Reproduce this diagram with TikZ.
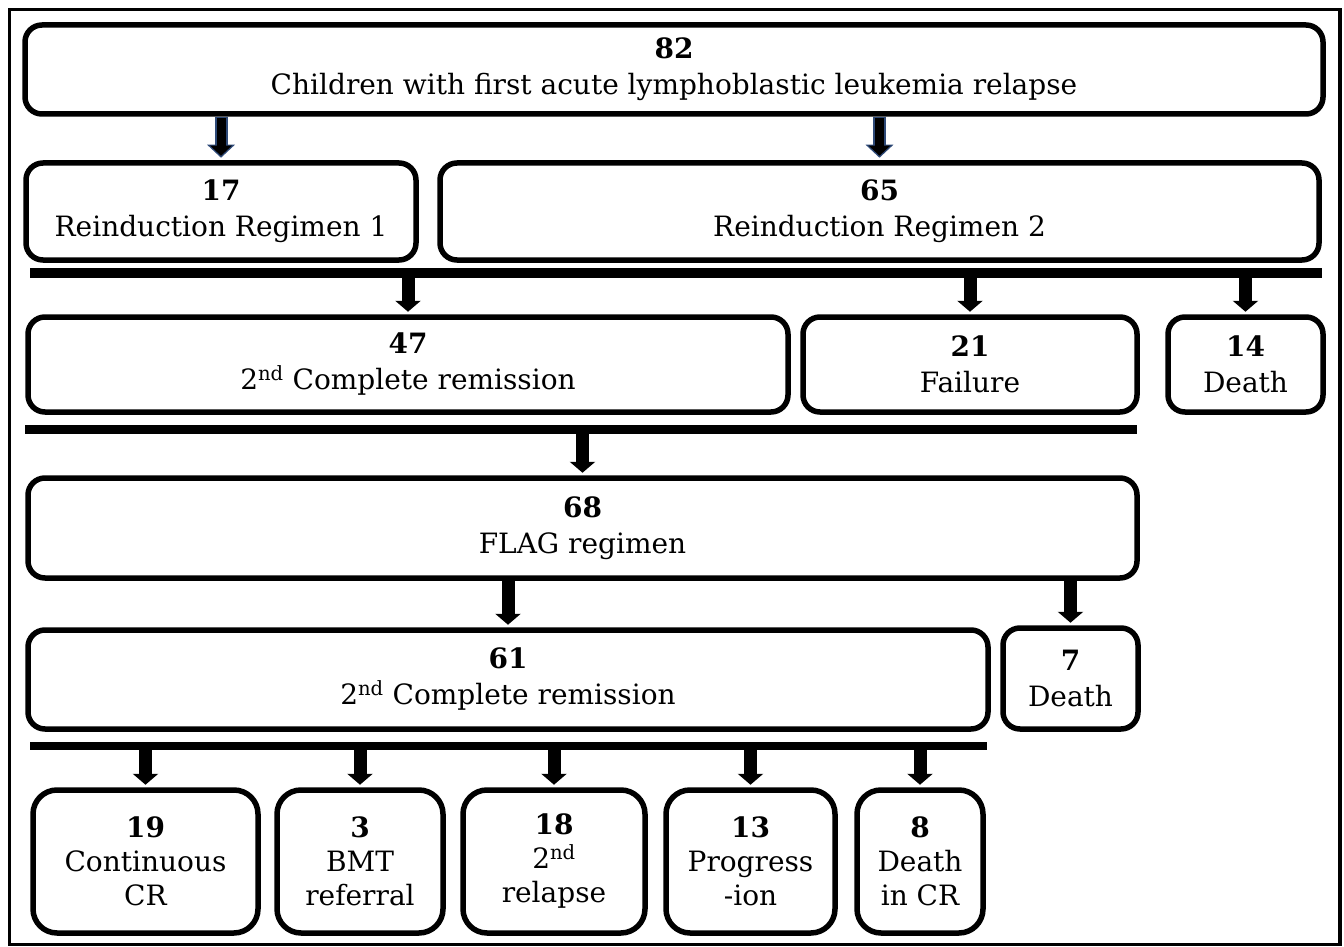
\documentclass[tikz,border=0pt]{standalone}
\usepackage{fontspec}
\setmainfont{DejaVu Serif}
\usetikzlibrary{arrows.meta,calc}
\definecolor{navyline}{HTML}{2E4A78}
\tikzset{
  box/.style={draw=black, line width=5.5pt, rounded corners=17pt, fill=white, align=center, inner sep=0pt,
    font=\fontsize{28}{36}\selectfont},
  smallbox/.style={box, rounded corners=24pt, font=\fontsize{28}{34}\selectfont},
  bar/.style={line width=#1, line cap=butt},
  blockarrow/.style={line width=13pt, -{Triangle[width=25pt,length=11pt]}, shorten >=2.5pt},
  bluearrowout/.style={line width=13pt, draw=navyline, -{Triangle[width=27pt,length=13pt]}, shorten >=2.5pt},
  bluearrowin/.style={line width=9pt, draw=black, -{Triangle[width=21pt,length=10pt]}, shorten >=4.5pt, shorten <=1.5pt},
}
\begin{document}
\begin{tikzpicture}[x=1pt,y=-1pt]
\useasboundingbox (0,0) rectangle (1344,947);
\draw[line width=3.5pt] (9.5,9.5) rectangle (1340,944.5);

\node[box, minimum width=1298pt, minimum height=89pt] (top) at (674,69.5) {\textbf{82}\\Children with first acute lymphoblastic leukemia relapse};
\node[box, minimum width=390pt, minimum height=97pt] (r1) at (221,211.5) {\textbf{17}\\Reinduction Regimen 1};
\node[box, minimum width=879pt, minimum height=97pt] (r2) at (879.5,211.5) {\textbf{65}\\Reinduction Regimen 2};

\node[box, minimum width=760pt, minimum height=95pt] (cr1) at (408,364.5) {\textbf{47}\\2\textsuperscript{nd} Complete remission};
\node[box, minimum width=334pt, minimum height=95pt] (fail) at (970,364.5) {\textbf{21}\\Failure};
\node[box, minimum width=155pt, minimum height=95pt] (d1) at (1245.5,364.5) {\textbf{14}\\Death};

\node[box, minimum width=1109pt, minimum height=100pt] (flag) at (582.5,528) {\textbf{68}\\FLAG regimen};

\node[box, minimum width=960pt, minimum height=99pt] (cr2) at (508,679.5) {\textbf{61}\\2\textsuperscript{nd} Complete remission};
\node[box, minimum width=135pt, minimum height=101pt] (d2) at (1070.5,678.5) {\textbf{7}\\Death};

\node[smallbox, minimum width=225pt, minimum height=143pt] (b19) at (145.5,861.5) {\textbf{19}\\Continuous\\CR};
\node[smallbox, minimum width=166pt, minimum height=143pt] (b3) at (360,861.5) {\textbf{3}\\BMT\\referral};
\node[smallbox, minimum width=182pt, minimum height=143pt] (b18) at (554,861.5) {\textbf{18}\\2\textsuperscript{nd}\\relapse};
\node[smallbox, minimum width=169pt, minimum height=143pt] (b13) at (750.5,861.5) {\textbf{13}\\Progress\\-ion};
\node[smallbox, minimum width=126pt, minimum height=143pt] (b8) at (920,861.5) {\textbf{8}\\Death\\in CR};

% bars
\coordinate (bar1L) at (30,273);
\coordinate (bar1R) at (1322,273);
\coordinate (bar2L) at (25,429);
\coordinate (bar2R) at (1137,429);
\coordinate (bar3L) at (30,746);
\coordinate (bar3R) at (987,746);
\draw[bar=10pt] (bar1L) -- (bar1R);
\draw[bar=9pt] (bar2L) -- (bar2R);
\draw[bar=8pt] (bar3L) -- (bar3R);

% blue-outlined arrows
\draw[bluearrowout] (top.south -| r1.north) -- (r1.north);
\draw[bluearrowin] (top.south -| r1.north) -- (r1.north);
\draw[bluearrowout] (top.south -| r2.north) -- (r2.north);
\draw[bluearrowin] (top.south -| r2.north) -- (r2.north);

% black arrows
\draw[blockarrow] (bar1L -| cr1.north) -- (cr1.north);
\draw[blockarrow] (bar1L -| fail.north) -- (fail.north);
\draw[blockarrow] (bar1L -| d1.north) -- (d1.north);
\draw[blockarrow] (bar2L -| flag.north) -- (flag.north);
\draw[blockarrow] (flag.south -| cr2.north) -- (cr2.north);
\draw[blockarrow] (flag.south -| d2.north) -- (d2.north);
\draw[blockarrow] (bar3L -| b19.north) -- (b19.north);
\draw[blockarrow] (bar3L -| b3.north) -- (b3.north);
\draw[blockarrow] (bar3L -| b18.north) -- (b18.north);
\draw[blockarrow] (bar3L -| b13.north) -- (b13.north);
\draw[blockarrow] (bar3L -| b8.north) -- (b8.north);
\end{tikzpicture}
\end{document}
